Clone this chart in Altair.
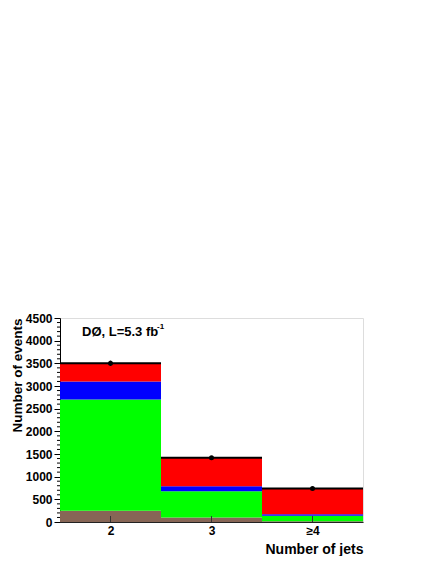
import altair as alt
import pandas as pd

# bins (number of jets)
bin_centers = [2, 3, 4]
bin_labels = ["2", "3", "≥4"]
# stacked components, bottom to top
comp_names = ["brown", "green", "blue", "red"]
comp_colors = ["#876656", "#00FF00", "#0000FF", "#FF0000"]
brown = [250, 100, 15]
green = [2450, 580, 125]
blue = [400, 110, 30]
red = [400, 625, 570]
# observed data
data_vals = [3500, 1415, 740]
data_errs = [59, 38, 27]

major_ticks = list(range(0, 4501, 500))
minor_ticks = [v for v in range(0, 4501, 100) if v % 500 != 0]

rows = []
comps = [brown, green, blue, red]
for i, c in enumerate(bin_centers):
    base = 0
    for name, vals in zip(comp_names, comps):
        rows.append({"lo": c - 0.5, "hi": c + 0.5, "y0": base, "y1": base + vals[i], "comp": name})
        base += vals[i]
stack_df = pd.DataFrame(rows)
tot_df = pd.DataFrame({
    "lo": [c - 0.5 for c in bin_centers],
    "hi": [c + 0.5 for c in bin_centers],
    "tot": [sum(v[i] for v in comps) for i in range(3)],
})
pts_df = pd.DataFrame({"x": bin_centers, "y": data_vals,
                       "ylo": [v - e for v, e in zip(data_vals, data_errs)],
                       "yhi": [v + e for v, e in zip(data_vals, data_errs)]})
minor_df = pd.DataFrame({"y": minor_ticks})
xt_df = pd.DataFrame({"x": bin_centers})

W, H = 303, 204
FONT = "Liberation Sans"

xscale = alt.Scale(domain=[1.5, 4.5], nice=False, zero=False)
yscale = alt.Scale(domain=[0, 4500], nice=False)

xaxis = alt.Axis(values=bin_centers, ticks=False, grid=False,
                 labelExpr="datum.value == 4 ? '≥4' : datum.value",
                 labelFont=FONT, labelFontWeight="bold", labelFontSize=12, labelColor="black",
                 labelPadding=3, domainColor="#222", domainWidth=1,
                 title="Number of jets", titleFont=FONT, titleFontWeight="bold", titleFontSize=14,
                 titleColor="black", titleX=W, titleY=31, titleAlign="right", titleBaseline="alphabetic")
yaxis = alt.Axis(values=major_ticks, format="d", labelOverlap=False,
                 grid=False, tickSize=6, tickColor="black",
                 labelFont=FONT, labelFontWeight="bold", labelFontSize=12, labelColor="black",
                 labelPadding=2, domainColor="black", domainWidth=1,
                 title="Number of events", titleFont=FONT, titleFontWeight="bold", titleFontSize=13.5,
                 titleColor="black", titleX=-43, titleY=0, titleAngle=270, titleAlign="right",
                 titleBaseline="middle")

def X(f):
    return alt.X(f, type="quantitative", scale=xscale, axis=xaxis)

def Y(f):
    return alt.Y(f, type="quantitative", scale=yscale, axis=yaxis)

bars = alt.Chart(stack_df).mark_rect().encode(
    x=X("lo"), x2="hi:Q", y=Y("y0"), y2="y1:Q",
    color=alt.Color("comp:N", scale=alt.Scale(domain=comp_names, range=comp_colors), legend=None),
)
tops = alt.Chart(tot_df).mark_rule(color="black", strokeWidth=2).encode(
    x=X("lo"), x2="hi:Q", y=Y("tot"))
errs = alt.Chart(pts_df).mark_rule(color="black", strokeWidth=1.5).encode(
    x=X("x"), y=Y("ylo"), y2="yhi:Q")
pts = alt.Chart(pts_df).mark_point(filled=True, color="black", size=25, opacity=1).encode(
    x=X("x"), y=Y("y"))
minor = alt.Chart(minor_df).mark_rule(color="black", strokeWidth=1).encode(
    x=alt.value(-3), x2=alt.value(0), y=Y("y"))
xticks = alt.Chart(xt_df).mark_rule(color="#333", strokeWidth=1).encode(
    x=X("x"), y=alt.value(H), y2=alt.value(H - 6))
label1 = alt.Chart(pd.DataFrame({"t": ["DØ, L=5.3 fb"]})).mark_text(
    font=FONT, fontWeight="bold", fontSize=13, align="left", baseline="middle", color="black"
).encode(x=alt.value(22), y=alt.value(14), text="t:N")
label2 = alt.Chart(pd.DataFrame({"t": ["-1"]})).mark_text(
    font=FONT, fontWeight="bold", fontSize=8, align="left", baseline="middle", color="black"
).encode(x=alt.value(97), y=alt.value(9), text="t:N")

chart = alt.layer(bars, tops, errs, pts, minor, xticks, label1, label2).properties(
    width=W, height=H,
    autosize=alt.AutoSizeParams(type="none"),
    padding={"left": 52, "top": 310, "right": 65, "bottom": 34},
).configure_view(stroke="#333", strokeWidth=1).configure_axis(labelOverlap=False).configure(background="white")

chart.save("out.html", embed_options={"renderer": "svg", "actions": False})
